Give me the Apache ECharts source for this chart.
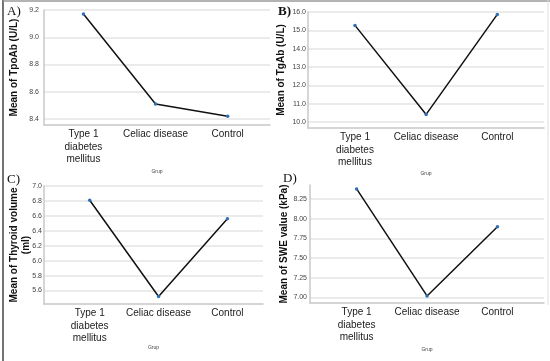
<!DOCTYPE html>
<html>
<head>
<meta charset="utf-8">
<script src="https://cdn.jsdelivr.net/npm/echarts@6/dist/echarts.min.js"></script>
<style>
html,body{margin:0;padding:0;background:#fff;}
#chart{width:550px;height:361px;}
</style>
</head>
<body>
<div id="chart"></div>
<script>
// ---- data ----
var categories = ['Type 1\ndiabetes\nmellitus', 'Celiac disease', 'Control'];
var tpoAb = [9.17, 8.51, 8.42];
var tgAb = [15.27, 10.42, 15.87];
var thyroidVolume = [6.81, 5.52, 6.56];
var sweValue = [8.38, 7.02, 7.90];
var tpoAbTicks = [8.4, 8.6, 8.8, 9.0, 9.2];
var tgAbTicks = [10, 11, 12, 13, 14, 15, 16];
var thyroidTicks = [5.6, 5.8, 6.0, 6.2, 6.4, 6.6, 6.8, 7.0];
var sweTicks = [7.0, 7.25, 7.5, 7.75, 8.0, 8.25];
var panelLabels = ['A)', 'B)', 'C)', 'D)'];
var yTitles = ['Mean of TpoAb (U/L)', 'Mean of TgAb (U/L)', 'Mean of Thyroid volume\n(ml)', 'Mean of SWE value (kPa)'];
var xTitle = 'Grup';

var series = [tpoAb, tgAb, thyroidVolume, sweValue];
var yTicks = [tpoAbTicks, tgAbTicks, thyroidTicks, sweTicks];
var yDecimals = [1, 1, 1, 2];
var catIdx = categories.map(function (c, k) { return k; });

// ---- layout / styles ----
var grids = [
  {left: 44, top: 10, width: 226, height: 115},
  {left: 308, top: 12, width: 236, height: 116},
  {left: 44, top: 186, width: 219, height: 118},
  {left: 310, top: 185, width: 234, height: 118}
];
var xRanges = [[-0.547, 2.587], [-0.66, 2.656], [-0.664, 2.517], [-0.662, 2.661]];
var yRanges = [[8.356, 9.2], [9.68, 16.0], [5.42, 7.0], [6.93, 8.43]];
var nameGaps = [24, 21, 12, 20];
var yLabelMargins = [5, 2, 2, 3];
var xNameGaps = [44.5, 43, 41.5, 44];

var axisGray = '#c8c8c8';
var gridGray = '#e4e4e4';

var option = {
  animation: false,
  backgroundColor: '#fff',
  grid: grids,
  xAxis: grids.map(function (g, i) {
    return {
      type: 'value', gridIndex: i,
      min: xRanges[i][0], max: xRanges[i][1],
      axisLine: {show: true, onZero: false, lineStyle: {color: axisGray, width: 1.5}},
      axisTick: {show: false, customValues: catIdx},
      splitLine: {show: false},
      axisLabel: {
        customValues: catIdx,
        margin: 3, fontFamily: 'Liberation Sans', fontSize: 10, lineHeight: 12.5, color: '#1a1a1a',
        formatter: function (v) { return categories[Math.round(v)] || ''; }
      },
      name: xTitle, nameLocation: 'middle', nameGap: xNameGaps[i], nameMoveOverlap: false,
      nameTextStyle: {fontFamily: 'Liberation Sans', fontSize: 5, color: '#444'}
    };
  }),
  yAxis: grids.map(function (g, i) {
    var r = yRanges[i];
    return {
      type: 'value', gridIndex: i,
      min: r[0], max: r[1],
      axisLine: {show: true, onZero: false, lineStyle: {color: axisGray, width: 1.5}},
      axisTick: {show: false, customValues: yTicks[i]},
      splitLine: {show: true, lineStyle: {color: gridGray, width: 1.5}},
      axisLabel: {
        customValues: yTicks[i],
        margin: yLabelMargins[i], fontFamily: 'Liberation Sans', fontSize: 7, color: '#444',
        formatter: function (v) { return v.toFixed(yDecimals[i]); }
      },
      name: yTitles[i], nameLocation: 'middle', nameRotate: 90, nameGap: nameGaps[i], nameMoveOverlap: false,
      nameTextStyle: {fontFamily: 'Liberation Sans', fontSize: 10, fontWeight: 'bold', color: '#111', lineHeight: 12}
    };
  }),
  series: series.map(function (vals, i) {
    return {
      type: 'line', xAxisIndex: i, yAxisIndex: i,
      data: vals.map(function (v, k) { return [k, v]; }),
      symbol: 'circle', symbolSize: 3.5,
      itemStyle: {color: '#2f6fb3'},
      lineStyle: {color: '#111', width: 1.5},
      z: 3
    };
  }),
  graphic: [
    {type: 'line', shape: {x1: 3, y1: 0, x2: 3, y2: 361}, style: {stroke: '#444', lineWidth: 1.5}},
    {type: 'line', shape: {x1: 3, y1: 1, x2: 550, y2: 1}, style: {stroke: '#9a9a9a', lineWidth: 1.5}},
    {type: 'line', shape: {x1: 548, y1: 0, x2: 548, y2: 305}, style: {stroke: '#dddddd', lineWidth: 1}},
    {type: 'text', left: 7, top: 5, style: {text: panelLabels[0], font: '13px "Liberation Serif"', fill: '#111'}},
    {type: 'text', left: 278, top: 5, style: {text: panelLabels[1], font: 'bold 13px "Liberation Serif"', fill: '#111'}},
    {type: 'text', left: 7, top: 173, style: {text: panelLabels[2], font: '13px "Liberation Serif"', fill: '#111'}},
    {type: 'text', left: 283, top: 172, style: {text: panelLabels[3], font: '13px "Liberation Serif"', fill: '#111'}}
  ]
};

var chart = echarts.init(document.getElementById('chart'), null, {renderer: 'canvas'});
chart.setOption(option);
</script>
</body>
</html>
